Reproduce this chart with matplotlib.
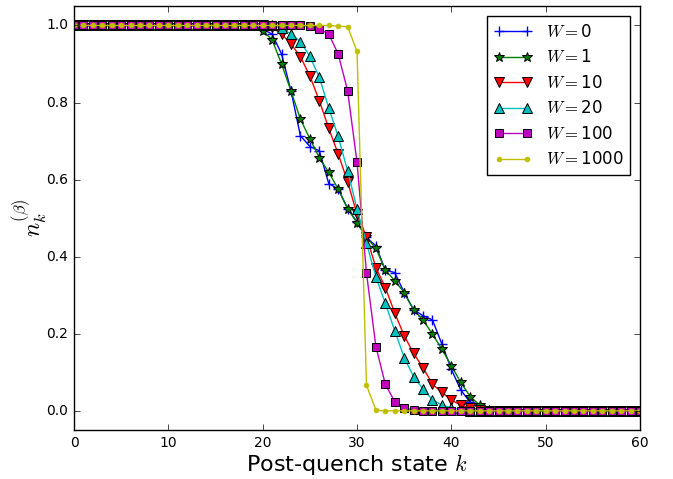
import matplotlib
matplotlib.use("Agg")
import matplotlib.pyplot as plt
import numpy as np

plt.style.use('classic')

k = np.arange(0, 61)

# transition region values (k = 20 .. 44); outside: 1 below, 0 above
k_trans = list(range(20, 45))
w0 = [0.99, 0.978, 0.926, 0.83, 0.714, 0.686, 0.675, 0.59, 0.576, 0.525, 0.49,
      0.45, 0.428, 0.365, 0.359, 0.307, 0.262, 0.247, 0.236, 0.173, 0.108,
      0.054, 0.022, 0.008, 0.0]
w1 = [0.987, 0.963, 0.90, 0.83, 0.757, 0.706, 0.657, 0.619, 0.576, 0.525, 0.488,
      0.45, 0.422, 0.365, 0.338, 0.307, 0.262, 0.236, 0.199, 0.16, 0.117,
      0.074, 0.037, 0.015, 0.003]
w10 = [1.0, 0.995, 0.978, 0.952, 0.919, 0.869, 0.805, 0.733, 0.667, 0.595, 0.51,
       0.452, 0.372, 0.32, 0.254, 0.195, 0.149, 0.112, 0.069, 0.048, 0.028,
       0.015, 0.008, 0.003, 0.0]
w20 = [1.0, 1.0, 0.993, 0.978, 0.958, 0.92, 0.866, 0.786, 0.712, 0.623, 0.524,
       0.435, 0.348, 0.279, 0.208, 0.138, 0.089, 0.056, 0.029, 0.015, 0.008,
       0.003, 0.0, 0.0, 0.0]
w100 = [1.0, 1.0, 1.0, 1.0, 1.0, 0.998, 0.991, 0.978, 0.926, 0.831, 0.645,
        0.358, 0.167, 0.069, 0.024, 0.008, 0.002, 0.0, 0.0, 0.0, 0.0,
        0.0, 0.0, 0.0, 0.0]
w1000 = [1.0, 1.0, 1.0, 1.0, 1.0, 1.0, 1.0, 1.0, 0.998, 0.997, 0.933,
         0.067, 0.002, 0.0, 0.0, 0.0, 0.0, 0.0, 0.0, 0.0, 0.0,
         0.0, 0.0, 0.0, 0.0]

W_values = [0, 1, 10, 20, 100, 1000]
series = [w0, w1, w10, w20, w100, w1000]


def full_curve(trans):
    y = np.where(k < k_trans[0], 1.0, 0.0)
    for kk, v in zip(k_trans, trans):
        y[kk] = v
    return y


styles = [
    dict(color='b', marker='+', ms=7, mew=1.0, mec='b'),
    dict(color='g', marker='*', ms=7, mec='k', mfc='g', mew=0.7),
    dict(color='r', marker='v', ms=6.5, mec='k', mfc='r', mew=0.7),
    dict(color='c', marker='^', ms=6.5, mec='k', mfc='c', mew=0.7),
    dict(color='m', marker='s', ms=6, mec='k', mfc='m', mew=0.7),
    dict(color='y', marker='.', ms=7, mec='y', mfc='y', mew=0.5),
]

fig = plt.figure(figsize=(6.73, 4.79), dpi=100, facecolor='white')
ax = fig.add_axes([0.11, 0.102, 0.841, 0.885])
ax.set_facecolor('white')

for W, s, st in zip(W_values, series, styles):
    ax.plot(k, full_curve(s), lw=1.0, label=r'$W=$' + str(W), **st)

ax.set_xlim(0, 60)
ax.set_ylim(-0.05, 1.05)
ax.set_xticks(np.arange(0, 61, 10))
ax.set_yticks(np.arange(0, 1.01, 0.2))
ax.tick_params(labelsize=10)
ax.set_xlabel(r'Post-quench state $k$', fontsize=16, labelpad=2)
ax.set_ylabel(r'$n_k^{(\beta)}$', fontsize=17, labelpad=-2)

leg = ax.legend(loc='upper right', fontsize=12, numpoints=2, handlelength=2.3,
                borderaxespad=0.6, labelspacing=0.45)
leg.get_frame().set_edgecolor('k')

fig.savefig('out.png', dpi=100, facecolor='white')
